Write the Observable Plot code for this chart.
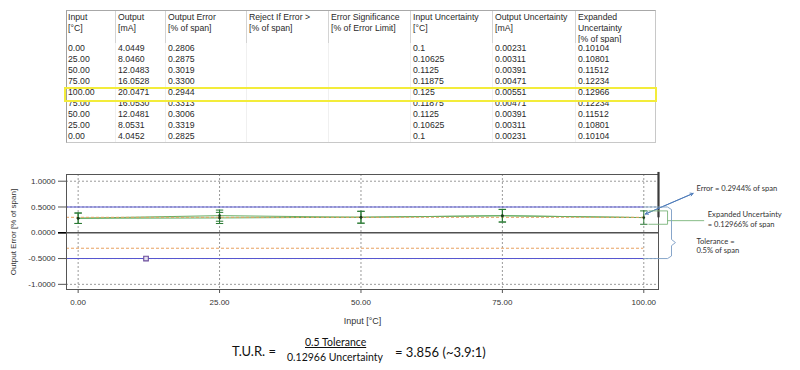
<!DOCTYPE html>
<html>
<head>
<meta charset="utf-8">
<script src="https://cdn.jsdelivr.net/npm/d3@7"></script>
<script src="https://cdn.jsdelivr.net/npm/@observablehq/plot@0.6"></script>
<style>
  html, body { margin: 0; padding: 0; background: #fff; }
  #page { position: relative; width: 800px; height: 370px; overflow: hidden; background: #fff; }
  #tbl { position: absolute; left: 66px; top: 10px; width: 590px; height: 133px;
         border-top: 1px solid #a8a8a8; border-left: 1px solid #a0a0a0; border-right: 1px solid #c8c8c8; border-bottom: 1px solid #c8c8c8;
         box-sizing: border-box; font-family: "Liberation Sans", Arial, sans-serif; font-size: 8.7px; color: #2a2a2a; }
  .col { position: absolute; top: 0; height: 131px; box-sizing: border-box; }
  .hd { position: absolute; top: 0; left: 0; right: 0; height: 32px; padding: 1px 0 0 2px; line-height: 11px; box-sizing: border-box; border-right: 1px solid #d4d4d4; white-space: nowrap; overflow: hidden; }
  .cell { position: absolute; left: 0; right: 0; height: 11.05px; line-height: 11.05px; padding-left: 2px; border-right: 1px solid #f0f0f0; box-sizing: border-box; white-space: nowrap; }
  #hl { position: absolute; left: 64px; top: 87px; width: 593px; height: 15px; border: 2.5px solid #f3ec3a; box-sizing: border-box; }
  #chart { position: absolute; left: 0; top: 160px; }
  .f { position: absolute; font-family: Lato, "Open Sans", sans-serif; color: #111; white-space: nowrap; }
</style>
</head>
<body>
<div id="page">
  <div id="tbl"></div>
  <div id="hl"></div>
  <div id="chart"></div>
  <div class="f" style="left:232px; top:343px; font-size:13px;">T.U.R. =</div>
  <div class="f" style="left:305px; top:336px; font-size:10.5px; text-decoration: underline;">0.5 Tolerance</div>
  <div class="f" style="left:287px; top:351px; font-size:10.5px;">0.12966 Uncertainty</div>
  <div class="f" style="left:395px; top:344px; font-size:13px;">= 3.856 (~3.9:1)</div>
</div>
<script>
// ---- data ----
const headers = [
  ["Input", "[°C]"],
  ["Output", "[mA]"],
  ["Output Error", "[% of span]"],
  ["Reject If Error >", "[% of span]"],
  ["Error Significance", "[% of Error Limit]"],
  ["Input Uncertainty", "[°C]"],
  ["Output Uncertainty", "[mA]"],
  ["Expanded", "Uncertainty", "[% of span]"]
];
const inputs = [0, 25, 50, 75, 100, 75, 50, 25, 0];
const outputs = [4.0449, 8.0460, 12.0483, 16.0528, 20.0471, 16.0530, 12.0481, 8.0531, 4.0452];
const outputErrors = [0.2806, 0.2875, 0.3019, 0.3300, 0.2944, 0.3313, 0.3006, 0.3319, 0.2825];
const inputUnc = ["0.1", "0.10625", "0.1125", "0.11875", "0.125", "0.11875", "0.1125", "0.10625", "0.1"];
const outputUnc = ["0.00231", "0.00311", "0.00391", "0.00471", "0.00551", "0.00471", "0.00391", "0.00311", "0.00231"];
const expandedUnc = [0.10104, 0.10801, 0.11512, 0.12234, 0.12966, 0.12234, 0.11512, 0.10801, 0.10104];
const xTicks = [0, 25, 50, 75, 100];
const yTicks = [-1, -0.5, 0, 0.5, 1];
const tolerance = [0.5, -0.5];
const rejectLimits = [0.3, -0.3];
const cursorPoint = [{x: 12, y: -0.5}];

// ---- table ----
const colEdges = [66, 116, 166, 247, 329, 411, 493, 576, 656];
const columns = [
  inputs.map(v => v.toFixed(2)),
  outputs.map(v => v.toFixed(4)),
  outputErrors.map(v => v.toFixed(4)),
  inputs.map(() => ""),
  inputs.map(() => ""),
  inputUnc,
  outputUnc,
  expandedUnc.map(v => v.toFixed(5))
];
const tbl = document.getElementById("tbl");
columns.forEach((vals, c) => {
  const col = document.createElement("div");
  col.className = "col";
  col.style.left = (colEdges[c] - 67) + "px";
  col.style.width = (colEdges[c + 1] - colEdges[c]) + "px";
  const hd = document.createElement("div");
  hd.className = "hd";
  hd.innerHTML = headers[c].map(s => s.replace(/&/g, "&amp;").replace(/</g, "&lt;").replace(/>/g, "&gt;")).join("<br>");
  if (c === columns.length - 1) hd.style.borderRight = "none";
  col.appendChild(hd);
  vals.forEach((v, r) => {
    const cell = document.createElement("div");
    cell.className = "cell";
    cell.style.top = (32 + r * 11.05) + "px";
    cell.textContent = v;
    if (c === columns.length - 1) cell.style.borderRight = "none";
    col.appendChild(cell);
  });
  tbl.appendChild(col);
});

// ---- chart ----
const pts = inputs.map((x, i) => ({x, err: outputErrors[i], u: expandedUnc[i]}));
const upPts = pts.slice(0, 5);
const downPts = pts.slice(4);
const xDom = [-2.06, 102.6];
const yDom = [-1.1, 1.13];
const last = pts[4];

const chart = Plot.plot({
  width: 800, height: 175,
  marginLeft: 66, marginRight: 142, marginTop: 14, marginBottom: 46,
  x: {domain: xDom},
  y: {domain: yDom},
  style: {fontFamily: "'Liberation Sans', Arial, sans-serif", fontSize: "8px", color: "#333", background: "transparent", overflow: "visible"},
  marks: [
    Plot.ruleX(xTicks, {stroke: "#9a9a9a", strokeDasharray: "2,2"}),
    Plot.ruleY(yTicks.filter(d => d !== 0), {stroke: "#9a9a9a", strokeDasharray: "2,2"}),
    Plot.ruleY([0], {stroke: "#505050", strokeWidth: 1.3}),
    Plot.ruleY(tolerance, {x1: xDom[0], x2: 100, stroke: "#5656d0", strokeWidth: 1.1}),
    Plot.line(upPts, {x: "x", y: "err", stroke: "#62ad62", strokeWidth: 1}),
    Plot.line(downPts, {x: "x", y: "err", stroke: "#62ad62", strokeWidth: 1}),
    Plot.ruleY(rejectLimits, {x1: xDom[0], x2: 100, stroke: "#e8a060", strokeDasharray: "3,2"}),
    Plot.ruleX(pts, {x: "x", y1: d => d.err - d.u, y2: d => d.err + d.u, stroke: "#2a7a34", strokeWidth: 1}),
    Plot.link(pts, {x1: d => d.x - 0.65, x2: d => d.x + 0.65, y1: d => d.err + d.u, y2: d => d.err + d.u, stroke: "#2a7a34", strokeWidth: 1}),
    Plot.link(pts, {x1: d => d.x - 0.65, x2: d => d.x + 0.65, y1: d => d.err - d.u, y2: d => d.err - d.u, stroke: "#2a7a34", strokeWidth: 1}),
    Plot.dot(pts, {x: "x", y: "err", r: 1.3, fill: "#1c3a1c"}),
    Plot.dot(cursorPoint, {x: "x", y: "y", symbol: "square", r: 2.6, stroke: "#6b4c9c", fill: "#e4e0ee", strokeWidth: 1.1}),
    Plot.frame({stroke: "#555"}),
    Plot.ruleX([xDom[1]], {y1: yDom[1] + 0.04, y2: 0.29, stroke: "#3a3a3a", strokeWidth: 2.2}),
    Plot.axisY(yTicks, {tickFormat: d => d.toFixed(4), tickSize: 8, tickPadding: 3, label: null, stroke: "#555"}),
    Plot.axisY([0], {tickFormat: () => "", tickSize: 8, label: null, stroke: "#000", strokeWidth: 1.6}),
    Plot.axisX(xTicks, {tickFormat: d => d.toFixed(2), tickSize: 4, tickPadding: 6, label: null, stroke: "#555"}),
    Plot.text(["Input [°C]"], {frameAnchor: "bottom", dy: 34, fontSize: 9, fill: "#333"}),
    Plot.text(["Output Error [% of span]"], {frameAnchor: "left", dx: -53, rotate: -90, textAnchor: "middle", fontSize: 8, fill: "#333"}),
    // annotations
    Plot.arrow([last], {x1: () => 108.7, y1: () => 0.762, x2: d => d.x + 0.3, y2: d => d.err + 0.07, stroke: "#4a78b8", strokeWidth: 0.9, headLength: 5}),
    Plot.arrow([last], {x1: d => d.x + 0.3, y1: d => d.err + 0.07, x2: () => 108.7, y2: () => 0.762, stroke: "#4a78b8", strokeWidth: 0.9, headLength: 5}),
    Plot.text([`Error = ${last.err.toFixed(4)}% of span`], {x: 109.3, y: 0.85, textAnchor: "start", fontSize: 7.6, fill: "#333", fontFamily: "Lato, sans-serif"}),
    Plot.line([[100.9, last.err + last.u], [104.2, last.err + last.u], [104.2, last.err - last.u], [100.9, last.err - last.u]], {x: d => d[0], y: d => d[1], stroke: "#7ab47a", strokeWidth: 0.9}),
    Plot.line([[104.2, 0.235], [110.6, 0.235]], {x: d => d[0], y: d => d[1], stroke: "#7ab47a", strokeWidth: 0.9}),
    Plot.text(["Expanded Uncertainty", `= ${last.u}% of span`], {x: 111.3, y: (d, i) => i === 0 ? 0.345 : 0.15, textAnchor: "start", fontSize: 7.6, fill: "#333", fontFamily: "Lato, sans-serif"}),
    Plot.line([[100, 0.5], [104.2, 0.5], [104.9, 0.45], [104.9, -0.13], [105.6, -0.19], [104.9, -0.25], [104.9, -0.45], [104.2, -0.5], [100, -0.5]], {x: d => d[0], y: d => d[1], stroke: "#7a9cc4", strokeWidth: 0.9, curve: "linear"}),
    Plot.text(["Tolerance =", `${tolerance[0]}% of span`], {x: 109.3, y: (d, i) => i === 0 ? -0.17 : -0.35, textAnchor: "start", fontSize: 7.6, fill: "#333", fontFamily: "Lato, sans-serif"})
  ]
});
document.getElementById("chart").appendChild(chart);
</script>
</body>
</html>
